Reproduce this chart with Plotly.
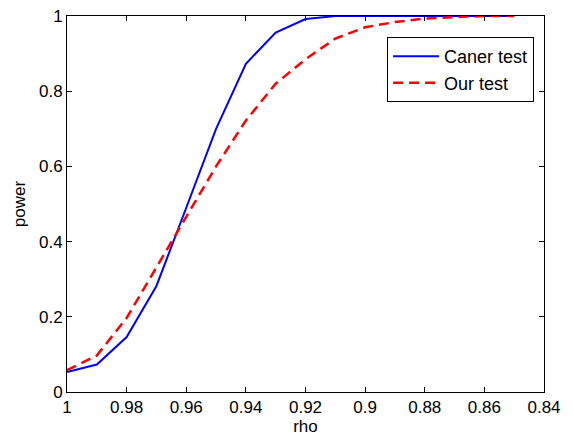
import plotly.graph_objects as go

rho = [1.00, 0.99, 0.98, 0.97, 0.96, 0.95, 0.94, 0.93, 0.92, 0.91, 0.90, 0.89, 0.88, 0.87, 0.86, 0.85]
caner_test = [0.053, 0.073, 0.146, 0.282, 0.490, 0.700, 0.873, 0.956, 0.992, 1.0, 1.0, 1.0, 1.0, 1.0, 1.0, 1.0]
our_test = [0.058, 0.097, 0.197, 0.333, 0.466, 0.600, 0.722, 0.820, 0.885, 0.940, 0.970, 0.984, 0.993, 0.997, 1.0, 1.0]

x_ticks = [1, 0.98, 0.96, 0.94, 0.92, 0.9, 0.88, 0.86, 0.84]
y_ticks = [0, 0.2, 0.4, 0.6, 0.8, 1]

fig = go.Figure()
fig.add_trace(go.Scatter(x=rho, y=caner_test, mode="lines", name="Caner test",
                         line=dict(color="#0000FF", width=2)))
fig.add_trace(go.Scatter(x=rho, y=our_test, mode="lines", name="Our test",
                         line=dict(color="#FF0000", width=2.5, dash="10px,6px")))

font = dict(family="Liberation Sans, Arial, sans-serif", size=17, color="black")
legend_font = dict(family="Liberation Sans, Arial, sans-serif", size=18, color="black")

# page body has an 8px default margin, so the figure is 8px smaller and shifted
fig.update_layout(
    width=566, height=431,
    margin=dict(l=59, r=30, t=8, b=47),
    paper_bgcolor="white", plot_bgcolor="white",
    font=font,
    showlegend=True,
    legend=dict(x=0.671, y=0.944, xanchor="left", yanchor="top",
                bordercolor="black", borderwidth=1, bgcolor="white",
                font=legend_font, tracegroupgap=0, itemwidth=46),
)
fig.update_xaxes(range=[1, 0.84], autorange=False, tickvals=x_ticks,
                 ticktext=[("%g" % v) for v in x_ticks],
                 ticks="inside", ticklen=5, tickcolor="black",
                 tickfont=font, automargin=False, ticklabeloverflow="allow",
                 showline=True, linecolor="black", linewidth=1, mirror="allticks",
                 showgrid=False, zeroline=False,
                 title=dict(text="rho", standoff=1, font=font))
fig.update_yaxes(range=[0, 1], autorange=False, tickvals=y_ticks,
                 ticktext=[("%g" % v) for v in y_ticks],
                 ticks="inside", ticklen=5, tickcolor="black",
                 tickfont=font, automargin=False, ticklabeloverflow="allow",
                 showline=True, linecolor="black", linewidth=1, mirror="allticks",
                 showgrid=False, zeroline=False,
                 title=dict(text="power", standoff=9, font=font))

fig.write_html("out.html")
